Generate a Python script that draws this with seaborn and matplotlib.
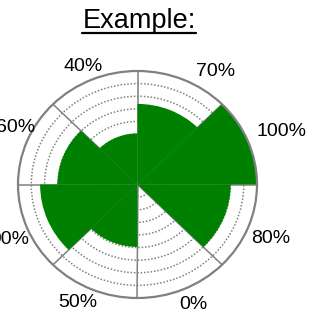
import numpy as np
import matplotlib
matplotlib.use('Agg')
import matplotlib.pyplot as plt
from matplotlib.lines import Line2D
import seaborn as sns

# sector labels (counter-clockwise from 0 deg) and bar lengths
labels = ['100%', '70%', '40%', '60%', '90%', '50%', '0%', '80%']
values = [1.0, 0.71, 0.45, 0.67, 0.815, 0.55, 0.0, 0.78]
title = 'Example:'

# where each label sits around the circle (degrees, radius in axis units)
label_theta = [21.3, 56.8, 113.5, 153.9, 204.2, 244.4, 294.0, 336.8]
label_r = [1.29, 1.195, 1.138, 1.137, 1.175, 1.148, 1.153, 1.216]

sns.set_style('white')
plt.rcParams['font.family'] = ['Liberation Sans', 'DejaVu Sans']
plt.rcParams['text.color'] = 'black'

n = len(values)
width = 2 * np.pi / n
centers = np.arange(n) * width + width / 2
edges = np.arange(n) * width

fig = plt.figure(figsize=(3.2, 3.12), dpi=100)
ax = fig.add_axes([18 / 320, 14 / 312, 239 / 320, 227 / 312], projection='polar')
ax.set_aspect('auto')
ax.set_axisbelow(True)

ax.bar(centers, values, width=width, color='green', edgecolor='none', linewidth=0)

ax.set_ylim(0, 1)
ax.set_yticks(np.arange(1, 9) / 9)
ax.set_yticklabels([])
ax.set_xticks(edges)
ax.set_xticklabels([])
ax.tick_params(axis='x', which='both', length=0)

for lab, th, r in zip(labels, label_theta, label_r):
    ax.text(np.deg2rad(th), r, lab, ha='center', va='center', fontsize=14,
            color='black', clip_on=False)

ax.xaxis.grid(True, which='major', color='gray', linewidth=1.1, linestyle='-')
ax.yaxis.grid(True, color='gray', linewidth=1.1, linestyle=(0, (1, 1.2)))
ax.spines['polar'].set_color('gray')
ax.spines['polar'].set_linewidth(1.6)

t = fig.text(139 / 320, 1 - 28 / 312, title, ha='center', va='baseline',
             fontsize=19.5, color='black')
fig.canvas.draw()
bb = t.get_window_extent()
y_ul = (312 - 32.5) / 312
fig.add_artist(Line2D([bb.x0 / 320, bb.x1 / 320], [y_ul, y_ul], color='black', linewidth=1.6))

fig.savefig('out.png', dpi=100)
